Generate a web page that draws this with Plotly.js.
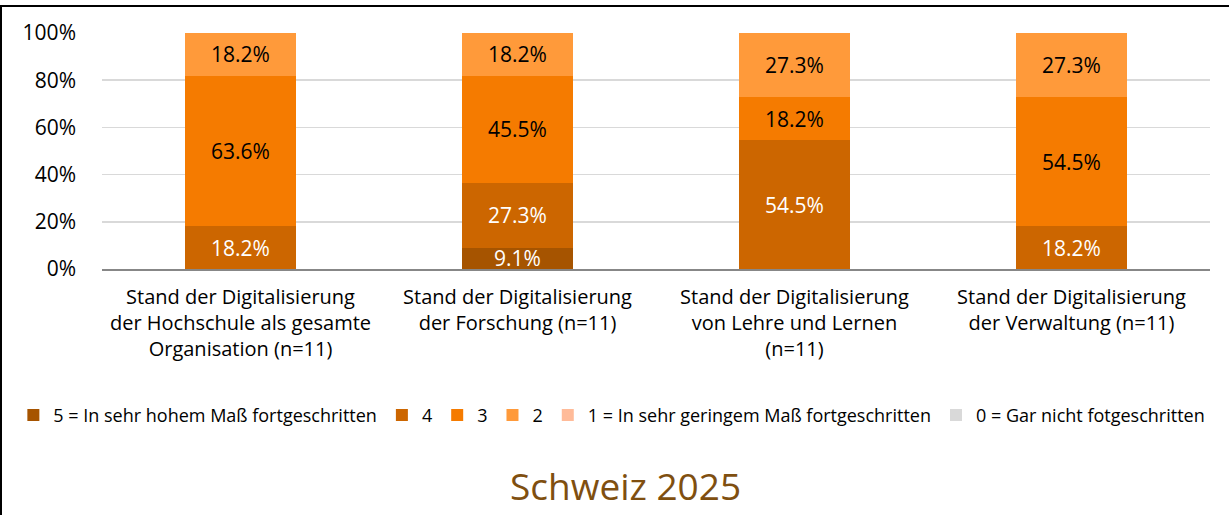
<!DOCTYPE html>
<html>
<head>
<meta charset="utf-8">
<script src="https://cdn.plot.ly/plotly-3.0.1.min.js"></script>
<style>
  html, body { margin: 0; padding: 0; background: #fff; }
  #wrap { position: relative; width: 1229px; height: 515px; overflow: hidden; }
  #chart { width: 1229px; height: 515px; }
  #frame { position: absolute; left: 0; top: 5px; width: 1300px; height: 600px;
           border-left: 2px solid #000; border-top: 2px solid #000; pointer-events: none; box-sizing: border-box; }
</style>
</head>
<body>
<div id="wrap">
  <div id="chart"></div>
  <div id="frame"></div>
</div>
<script>
const categories = [
  "Stand der Digitalisierung<br>der Hochschule als gesamte<br>Organisation (n=11)",
  "Stand der Digitalisierung<br>der Forschung (n=11)",
  "Stand der Digitalisierung<br>von Lehre und Lernen<br>(n=11)",
  "Stand der Digitalisierung<br>der Verwaltung (n=11)"
];
const seriesNames = [
  "5 = In sehr hohem Maß fortgeschritten",
  "4",
  "3",
  "2",
  "1 = In sehr geringem Maß fortgeschritten",
  "0 = Gar nicht fotgeschritten"
];
const s5 = [0, 9.1, 0, 0];
const s4 = [18.2, 27.3, 54.5, 18.2];
const s3 = [63.6, 45.5, 18.2, 54.5];
const s2 = [18.2, 18.2, 27.3, 27.3];
const s1 = [0, 0, 0, 0];
const s0 = [0, 0, 0, 0];
const yTicks = [0, 20, 40, 60, 80, 100];

const seriesValues = [s5, s4, s3, s2, s1, s0];
const colors = ["#A65400", "#CC6600", "#F57B00", "#FF9A3A", "#FFBB99", "#D9D9D9"];
const textColors = ["#FFFFFF", "#FFFFFF", "#000000", "#000000", "#000000", "#000000"];
const FONT = "'Open Sans', 'Noto Sans', sans-serif";

const traces = seriesValues.map((vals, i) => ({
  type: "bar",
  name: seriesNames[i],
  x: categories,
  y: vals,
  marker: { color: colors[i], line: { width: 0 } },
  text: vals.map(v => v ? v.toFixed(1) + "%" : ""),
  texttemplate: "%{text}",
  textposition: "inside",
  insidetextanchor: "middle",
  textangle: 0,
  insidetextfont: { family: FONT, size: 21, color: textColors[i] },
  hoverinfo: "skip"
}));

const layout = {
  barmode: "stack",
  bargap: 0.6,
  width: 1229,
  height: 515,
  margin: { l: 102, r: 19, t: 33, b: 246 },
  paper_bgcolor: "#FFFFFF",
  plot_bgcolor: "#FFFFFF",
  font: { family: FONT, color: "#000" },
  uniformtext: { mode: "show", minsize: 21 },
  title: {
    text: "Schweiz 2025",
    font: { family: FONT, size: 37, color: "#7F4F10" },
    xref: "container", x: 0.509, xanchor: "center",
    yref: "container", y: 0.054, yanchor: "middle"
  },
  xaxis: {
    type: "category",
    showline: true, linecolor: "#878787", linewidth: 2,
    ticks: "", showgrid: false,
    tickfont: { family: FONT, size: 20, color: "#000" },
    ticklabelstandoff: 9
  },
  yaxis: {
    range: [0, 100],
    tickvals: yTicks,
    ticktext: yTicks.map(v => v + "%"),
    showgrid: true, gridcolor: "#D9D9D9", gridwidth: 1.5,
    zeroline: false, showline: false, ticks: "",
    tickfont: { family: FONT, size: 21, color: "#000" },
    ticklabelstandoff: 25
  },
  showlegend: true,
  legend: {
    orientation: "h",
    x: -0.08, xanchor: "left",
    y: -0.62, yanchor: "middle",
    font: { family: FONT, size: 18, color: "#000" },
    traceorder: "normal",
    itemwidth: 30,
    itemclick: false, itemdoubleclick: false
  }
};

Plotly.newPlot("chart", traces, layout, { displayModeBar: false, staticPlot: true });
</script>
</body>
</html>
